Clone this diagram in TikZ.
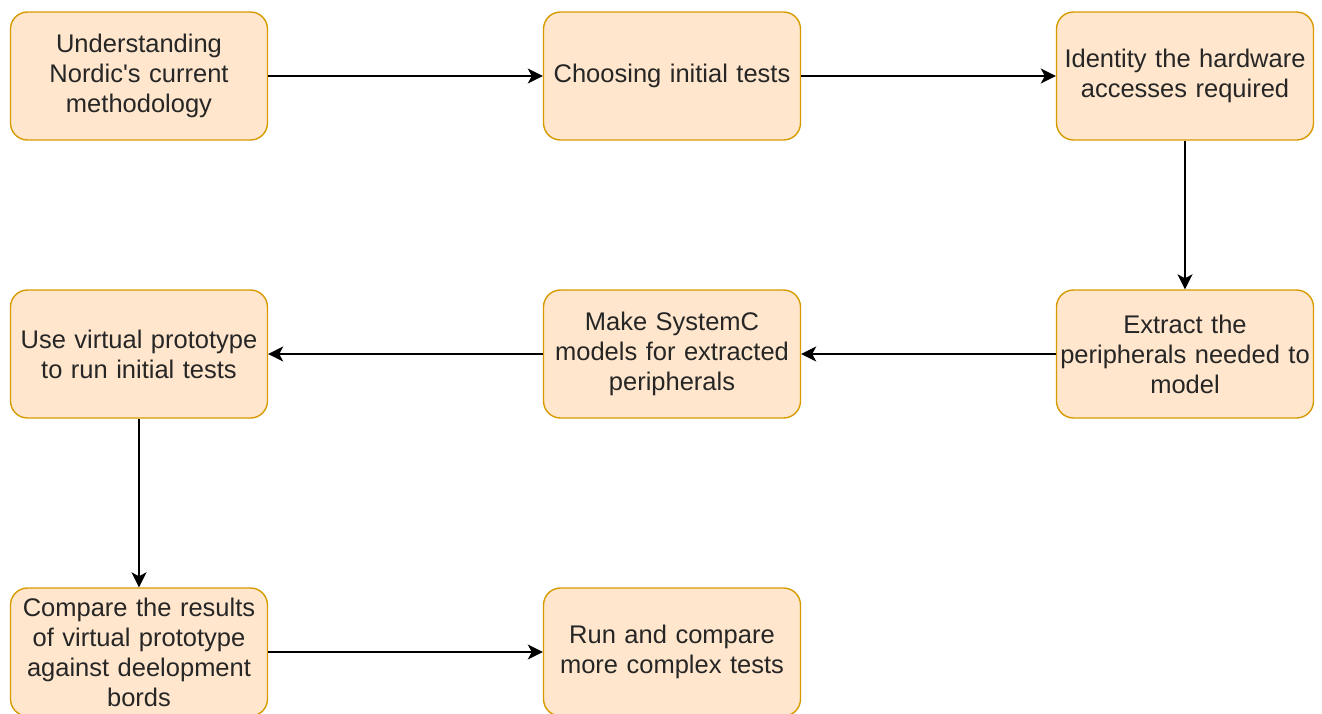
\documentclass[tikz,border=0pt]{standalone}
\usepackage{fontspec}
\setmainfont{Liberation Sans}
\usetikzlibrary{arrows.meta}
\definecolor{boxfill}{HTML}{FFE6CC}
\definecolor{boxline}{HTML}{D79B00}
\definecolor{txt}{HTML}{262626}
\begin{document}
\begin{tikzpicture}[x=1pt,y=-1pt,
  stepbox/.style={draw=boxline, fill=boxfill, line width=1.4pt, rounded corners=17pt,
    minimum width=257pt, minimum height=128pt, align=center, text width=254pt,
    font=\fontsize{25.5}{30}\selectfont, text=txt, inner sep=0pt},
  flow/.style={line width=1.8pt, -{Stealth[length=15pt,width=15pt,inset=4pt]}}]
  \useasboundingbox (0,0) rectangle (1322,713);
  \begin{scope}
    \clip (0,0) rectangle (1322,713);
    \node[stepbox] (s1) at (139,76) {Understanding\\Nordic\textquotesingle s current\\methodology};
    \node[stepbox] (s2) at (672,76) {Choosing initial tests};
    \node[stepbox] (s3) at (1185,76) {Identity the hardware\\accesses required};
    \node[stepbox] (s6) at (1185,354) {Extract the\\peripherals needed to\\model};
    \node[stepbox] (s5) at (672,354) {Make SystemC\\models for extracted\\peripherals};
    \node[stepbox] (s4) at (139,354) {Use virtual prototype\\to run initial tests};
    \node[stepbox] (s7) at (139,652) {Compare the results\\of virtual prototype\\against deelopment\\bords};
    \node[stepbox] (s8) at (672,652) {Run and compare\\more complex tests};
  \end{scope}
  \draw[flow] (s1) -- (s2);
  \draw[flow] (s2) -- (s3);
  \draw[flow] (s3) -- (s6);
  \draw[flow] (s6) -- (s5);
  \draw[flow] (s5) -- (s4);
  \draw[flow] (s4) -- (s7);
  \draw[flow] (s7) -- (s8);
\end{tikzpicture}
\end{document}
